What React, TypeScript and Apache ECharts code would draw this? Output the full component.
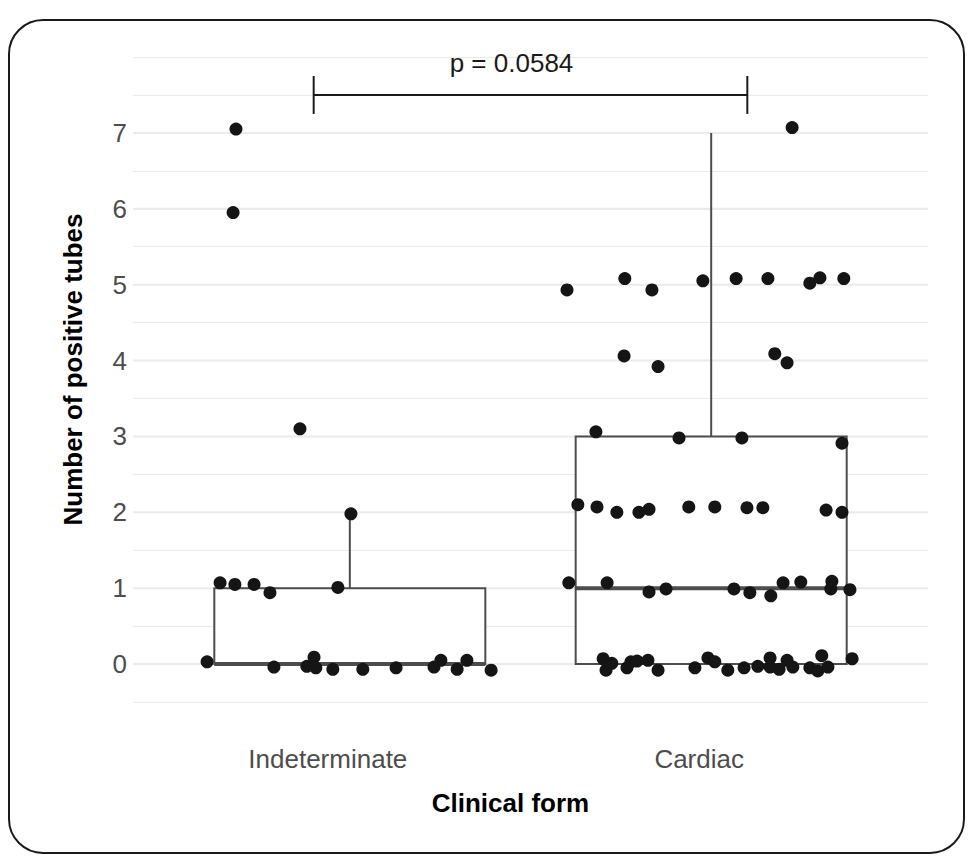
import React, { useEffect, useRef } from "react";
import * as echarts from "echarts";

// ---- data ----
const categories = ["Indeterminate", "Cardiac"];
const yTicks = [0, 1, 2, 3, 4, 5, 6, 7];

// jittered positions of the observations (x in category units, y in tubes)
const indeterminateX = [
  0.685, 0.677, 0.862, 1.003,
  0.641, 0.682, 0.735, 0.779, 0.967,
  0.605, 0.79, 0.881, 0.901, 0.906, 0.953, 1.036, 1.128, 1.233, 1.252, 1.297, 1.324, 1.391,
];
const indeterminateY = [
  7.05, 5.95, 3.1, 1.98,
  1.07, 1.05, 1.05, 0.94, 1.01,
  0.03, -0.04, -0.03, 0.09, -0.05, -0.07, -0.07, -0.05, -0.04, 0.05, -0.07, 0.05, -0.08,
];
const cardiacX = [
  // ~0
  1.701, 1.725, 1.709, 1.767, 1.778, 1.795, 1.825, 1.853, 1.955, 1.991, 2.01, 2.046,
  2.091, 2.129, 2.163, 2.163, 2.188, 2.21, 2.226, 2.273, 2.295, 2.306, 2.323, 2.39,
  // ~1
  1.606, 1.712, 1.828, 1.875, 2.063, 2.107, 2.165, 2.199, 2.248, 2.334, 2.331, 2.384,
  // ~2
  1.631, 1.684, 1.739, 1.8, 1.828, 1.938, 2.01, 2.099, 2.143, 2.318, 2.362,
  // ~3
  1.681, 1.911, 2.085, 2.362,
  // ~4
  1.759, 1.853, 2.176, 2.21,
  // ~5
  1.601, 1.761, 1.836, 1.977, 2.069, 2.157, 2.273, 2.301, 2.367,
  // ~7
  2.224,
];
const cardiacY = [
  0.07, 0.01, -0.08, -0.05, 0.03, 0.04, 0.05, -0.08, -0.05, 0.08, 0.03, -0.08,
  -0.05, -0.03, 0.08, -0.04, -0.07, 0.05, -0.04, -0.05, -0.09, 0.11, -0.04, 0.07,
  1.07, 1.07, 0.95, 0.99, 0.99, 0.94, 0.9, 1.07, 1.08, 1.09, 0.99, 0.98,
  2.1, 2.07, 2.0, 2.0, 2.04, 2.07, 2.07, 2.06, 2.06, 2.03, 2.0,
  3.06, 2.98, 2.98, 2.91,
  4.06, 3.92, 4.09, 3.97,
  4.93, 5.08, 4.93, 5.05, 5.08, 5.08, 5.02, 5.09, 5.08,
  7.07,
];

const pLabel = "p = 0.0584";
const bracketX = [0.9, 2.1];
const bracketY = 7.5;
const bracketTip = 0.25;

// ---- helpers ----
function quantile(sorted: number[], p: number) {
  const h = (sorted.length - 1) * p;
  const lo = Math.floor(h);
  const hi = Math.min(lo + 1, sorted.length - 1);
  return sorted[lo] + (h - lo) * (sorted[hi] - sorted[lo]);
}
function boxStats(ys: number[]) {
  const v = ys.map((y) => Math.round(y)).sort((a, b) => a - b);
  const q1 = quantile(v, 0.25);
  const med = quantile(v, 0.5);
  const q3 = quantile(v, 0.75);
  const iqr = q3 - q1;
  const lo = Math.min(...v.filter((x) => x >= q1 - 1.5 * iqr));
  const hi = Math.max(...v.filter((x) => x <= q3 + 1.5 * iqr));
  return [lo, q1, med, q3, hi];
}

const FONT = "'Liberation Sans', Arial, Helvetica, sans-serif";
const GREY = "#4D4D4D";
const DOT = "#151515";

export default function App() {
  const ref = useRef<HTMLDivElement>(null);

  useEffect(() => {
    if (!ref.current) return;
    const chart = echarts.init(ref.current, undefined, { renderer: "svg" });

    const groups = [
      { xs: indeterminateX, ys: indeterminateY },
      { xs: cardiacX, ys: cardiacY },
    ];
    const boxData = groups.map((g, i) => [i + 1, ...boxStats(g.ys)]);

    const option: any = {
      animation: false,
      backgroundColor: "#ffffff",
      textStyle: { fontFamily: FONT },
      grid: { left: 133, right: 40, top: 57, bottom: 154, containLabel: false },
      graphic: [
        {
          type: "rect",
          shape: { x: 9, y: 20, width: 955, height: 833, r: 34 },
          style: { fill: "none", stroke: "#1A1A1A", lineWidth: 2 },
          silent: true,
          z: 100,
        },
      ],
      xAxis: {
        type: "value",
        min: 0.4,
        max: 2.6,
        interval: 0.2,
        axisLine: { show: false },
        axisTick: { show: false },
        splitLine: { show: false },
        axisLabel: {
          margin: 44,
          formatter: (v: number) => {
            const k = Math.round(v);
            if (Math.abs(v - k) > 1e-6 || k < 1 || k > categories.length) return "";
            return `{c${k}|${categories[k - 1]}}`;
          },
          rich: {
            c1: { fontSize: 26, color: GREY, fontFamily: FONT, padding: [0, 44, 0, 0] },
            c2: { fontSize: 26, color: GREY, fontFamily: FONT, padding: [0, 24, 0, 0] },
          },
        },
        name: "Clinical form",
        nameLocation: "middle",
        nameGap: 88,
        nameTextStyle: {
          fontSize: 26,
          fontWeight: "bold",
          color: "#000000",
          fontFamily: FONT,
          padding: [0, 40, 0, 0],
        },
      },
      yAxis: {
        type: "value",
        min: -0.5,
        max: 8,
        interval: 0.5,
        axisLine: { show: false },
        axisTick: { show: false },
        splitLine: { show: true, lineStyle: { color: "#EBEBEB", width: 1 } },
        axisLabel: {
          margin: 6,
          fontSize: 26,
          color: GREY,
          fontFamily: FONT,
          formatter: (v: number) => (yTicks.includes(v) ? String(v) : ""),
        },
        name: "Number of positive tubes",
        nameLocation: "middle",
        nameGap: 47,
        nameTextStyle: {
          fontSize: 26,
          fontWeight: "bold",
          color: "#000000",
          fontFamily: FONT,
          padding: [0, 0, 0, 20],
        },
      },
      series: [
        {
          type: "custom",
          name: "major-grid",
          silent: true,
          z: 1,
          data: yTicks.map((t) => [0.4, t]),
          encode: { x: 0, y: 1 },
          renderItem: (params: any, api: any) => {
            const cs = params.coordSys;
            const p = api.coord([api.value(0), api.value(1)]);
            return {
              type: "line",
              shape: { x1: cs.x, y1: p[1], x2: cs.x + cs.width, y2: p[1] },
              style: { stroke: "#EBEBEB", lineWidth: 2 },
            };
          },
        },
        {
          type: "custom",
          name: "boxes",
          silent: true,
          z: 2,
          data: boxData,
          encode: { x: 0, y: [1, 2, 3, 4, 5] },
          renderItem: (params: any, api: any) => {
            const x = api.value(0);
            const lo = api.value(1);
            const q1 = api.value(2);
            const med = api.value(3);
            const q3 = api.value(4);
            const hi = api.value(5);
            const half = 0.375;
            const tl = api.coord([x - half, q3]);
            const br = api.coord([x + half, q1]);
            const ml = api.coord([x - half, med]);
            const mr = api.coord([x + half, med]);
            const pq3 = api.coord([x, q3]);
            const phi = api.coord([x, hi]);
            const pq1 = api.coord([x, q1]);
            const plo = api.coord([x, lo]);
            const st = { stroke: GREY, lineWidth: 2, fill: "none" };
            return {
              type: "group",
              children: [
                { type: "line", shape: { x1: pq3[0], y1: pq3[1], x2: phi[0], y2: phi[1] }, style: st },
                { type: "line", shape: { x1: pq1[0], y1: pq1[1], x2: plo[0], y2: plo[1] }, style: st },
                {
                  type: "rect",
                  shape: { x: tl[0], y: tl[1], width: br[0] - tl[0], height: br[1] - tl[1] },
                  style: { fill: "#ffffff", stroke: GREY, lineWidth: 2 },
                },
                { type: "line", shape: { x1: ml[0], y1: ml[1], x2: mr[0], y2: mr[1] }, style: { stroke: GREY, lineWidth: 4 } },
              ],
            };
          },
        },
        {
          type: "scatter",
          name: "Indeterminate",
          z: 3,
          symbol: "circle",
          symbolSize: 13,
          itemStyle: { color: DOT, opacity: 1 },
          data: indeterminateX.map((x, i) => [x, indeterminateY[i]]),
        },
        {
          type: "scatter",
          name: "Cardiac",
          z: 3,
          symbol: "circle",
          symbolSize: 13,
          itemStyle: { color: DOT, opacity: 1 },
          data: cardiacX.map((x, i) => [x, cardiacY[i]]),
        },
        {
          type: "custom",
          name: "signif",
          silent: true,
          z: 4,
          clip: false,
          data: [[bracketX[0], bracketX[1], bracketY, bracketTip]],
          encode: { x: [0, 1], y: 2 },
          renderItem: (params: any, api: any) => {
            const x0 = api.value(0);
            const x1 = api.value(1);
            const y = api.value(2);
            const t = api.value(3);
            const a = api.coord([x0, y]);
            const b = api.coord([x1, y]);
            const aTop = api.coord([x0, y + t]);
            const aBot = api.coord([x0, y - t]);
            const bTop = api.coord([x1, y + t]);
            const bBot = api.coord([x1, y - t]);
            const st = { stroke: "#1A1A1A", lineWidth: 2 };
            return {
              type: "group",
              children: [
                { type: "line", shape: { x1: a[0], y1: a[1], x2: b[0], y2: b[1] }, style: st },
                { type: "line", shape: { x1: aTop[0], y1: aTop[1], x2: aBot[0], y2: aBot[1] }, style: st },
                { type: "line", shape: { x1: bTop[0], y1: bTop[1], x2: bBot[0], y2: bBot[1] }, style: st },
                {
                  type: "text",
                  x: (a[0] + b[0]) / 2 - 19,
                  y: a[1] - 32,
                  style: {
                    text: pLabel,
                    fontSize: 26,
                    fontFamily: FONT,
                    fill: "#1A1A1A",
                    align: "center",
                    verticalAlign: "middle",
                  },
                },
              ],
            };
          },
        },
      ],
    };

    chart.setOption(option);
    return () => chart.dispose();
  }, []);

  return (
    <div
      ref={ref}
      style={{ position: "absolute", left: 0, top: 0, width: 968, height: 856 }}
    />
  );
}
